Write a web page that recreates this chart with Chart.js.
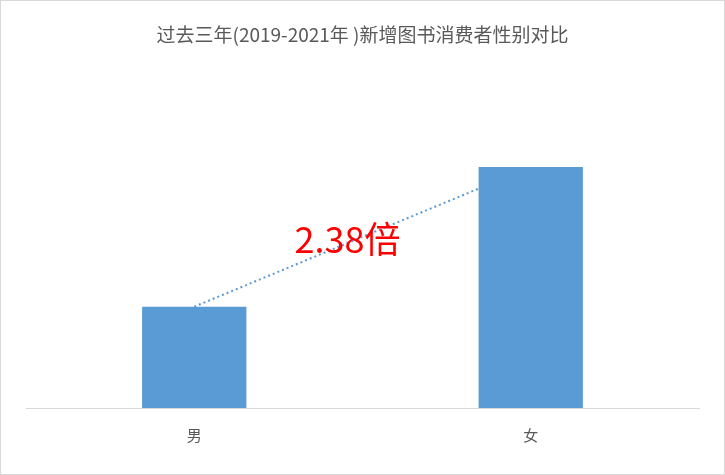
<!DOCTYPE html>
<html><head><meta charset="utf-8">
<script src="https://cdn.jsdelivr.net/npm/chart.js@4"></script>
<style>html,body{margin:0;padding:0;background:#fff}#w{width:723px;height:473px;border:1px solid #d9d9d9}</style>
</head><body><div id="w"><canvas id="c"></canvas></div>
<script>
const categories=['男','女'];
const values=[29.6,70.4];
const ratioLabel='2.38倍';
const lineEndValue=64.1;
const overlay={id:'overlay',afterDatasetsDraw(chart){
  const ctx=chart.ctx,meta=chart.getDatasetMeta(0),y=chart.scales.y;
  const b0=meta.data[0],b1=meta.data[1];
  const x0=b0.x,y0=b0.y,x1=b1.x-b1.width/2,y1=y.getPixelForValue(lineEndValue);
  ctx.save();ctx.strokeStyle='#5b9bd5';ctx.lineWidth=2;ctx.setLineDash([2,3]);
  ctx.beginPath();ctx.moveTo(x0,y0);ctx.lineTo(x1,y1);ctx.stroke();ctx.setLineDash([]);
  ctx.fillStyle='#ff0000';ctx.font='36px "Noto Sans CJK SC", sans-serif';ctx.textAlign='center';ctx.textBaseline='middle';
  ctx.fillText(ratioLabel,(x0+x1)/2+11,(y0+y1)/2-8);ctx.restore();}};
new Chart(document.getElementById('c'),{type:'bar',
 data:{labels:categories,datasets:[{data:values,backgroundColor:'#5b9bd5',categoryPercentage:1,barPercentage:0.31}]},
 options:{responsive:true,maintainAspectRatio:false,animation:false,
  layout:{padding:{left:25,right:25,top:10,bottom:20}},
  plugins:{legend:{display:false},tooltip:{enabled:false},
   title:{display:true,text:'过去三年(2019-2021年 )新增图书消费者性别对比',color:'#595959',font:{size:19,family:'"Noto Sans CJK SC", sans-serif',weight:'normal'},padding:{top:12,bottom:20}}},
  scales:{y:{display:false,min:0,max:100},
   x:{grid:{display:false},border:{color:'#d9d9d9'},ticks:{color:'#595959',font:{size:15,family:'"Noto Sans CJK SC", sans-serif'},padding:10}}}},
 plugins:[overlay]});
</script></body></html>
